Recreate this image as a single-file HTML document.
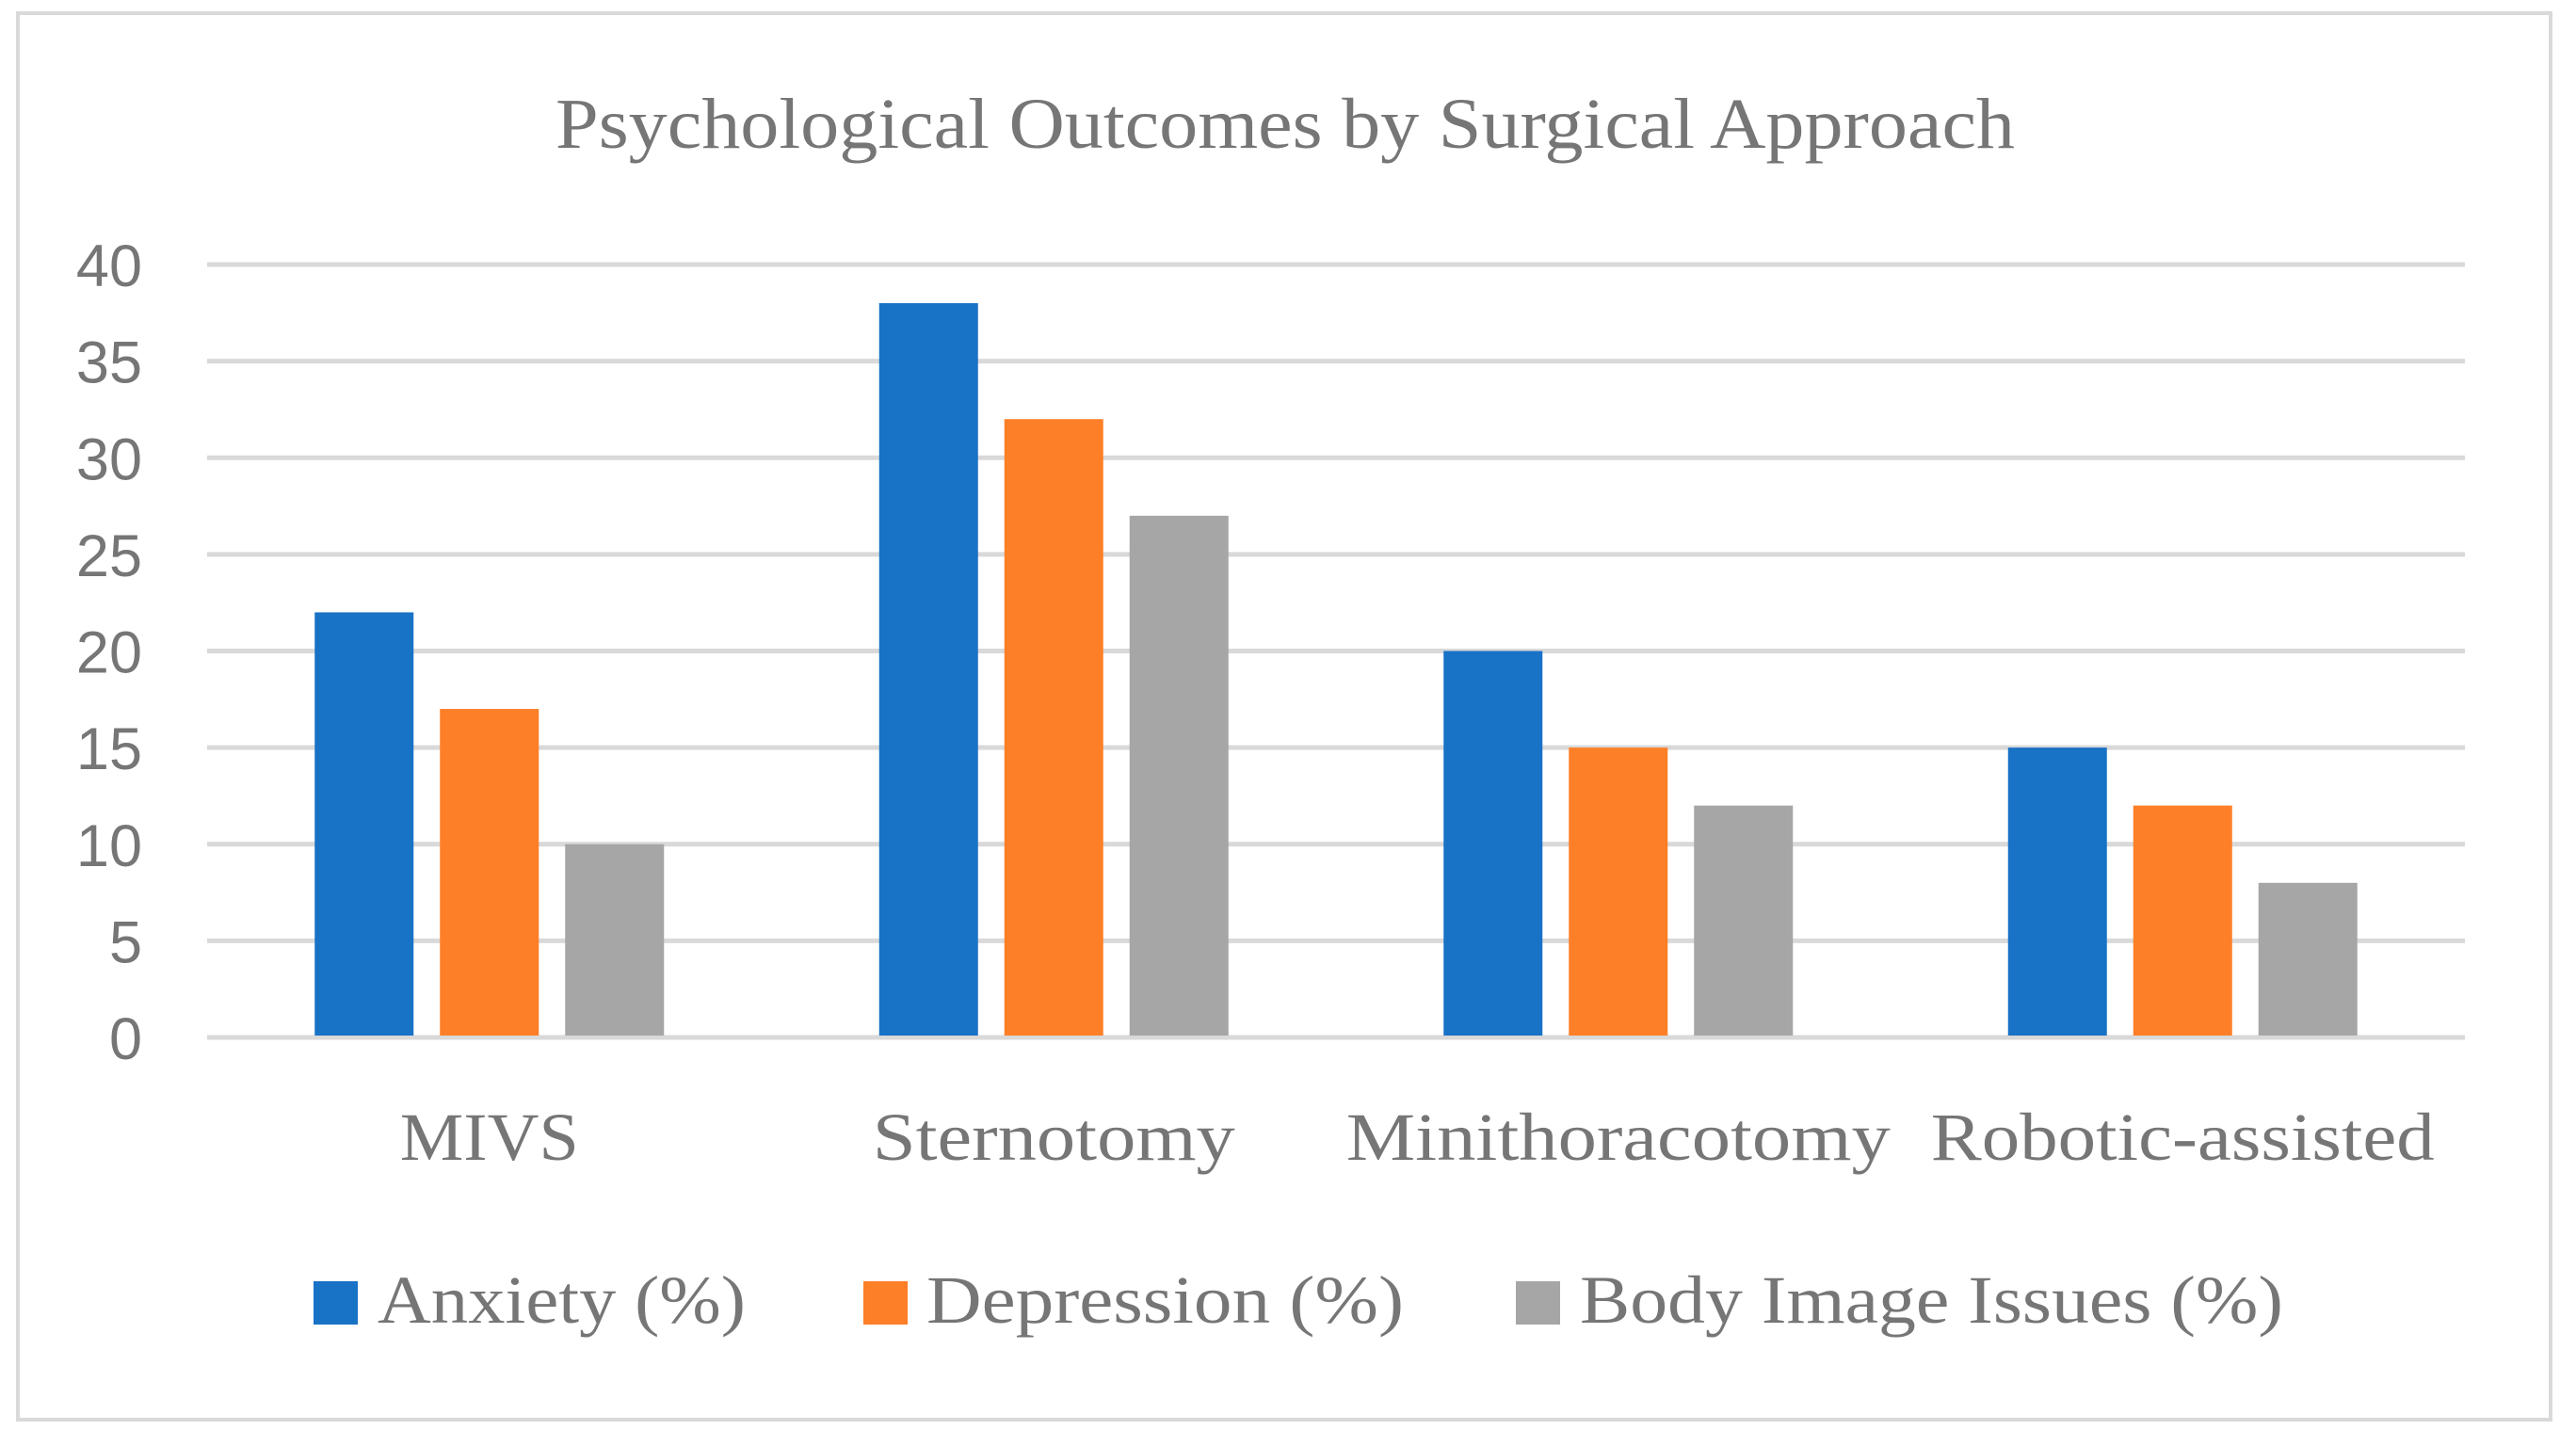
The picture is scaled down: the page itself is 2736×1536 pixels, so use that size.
<!DOCTYPE html>
<html><head><meta charset="utf-8"><style>
html,body{margin:0;padding:0;background:#fff;width:2736px;height:1536px;overflow:hidden}
svg{display:block}
</style></head><body>
<svg id="chart" width="2736" height="1536" xmlns="http://www.w3.org/2000/svg">
<rect x="19" y="14" width="2690" height="1494" fill="#fff" stroke="#d9d9d9" stroke-width="4"/>
<text x="1365" y="157" text-anchor="middle" font-family="'Liberation Serif',serif" font-size="76" fill="#767676" textLength="1550" lengthAdjust="spacingAndGlyphs">Psychological Outcomes by Surgical Approach</text>
<g id="grid"></g><g id="bars"></g><g id="xlabels"></g><g id="legend"></g>
</svg>
<script>
const categories = ["MIVS","Sternotomy","Minithoracotomy","Robotic-assisted"];
const anxiety = [22,38,20,15];
const depression = [17,32,15,12];
const bodyImage = [10,27,12,8];
const yTicks = [0,5,10,15,20,25,30,35,40];
const seriesNames = ["Anxiety (%)","Depression (%)","Body Image Issues (%)"];

const NS="http://www.w3.org/2000/svg";
const colors=["#1872c6","#fd7f27","#a6a6a6"];
const plotL=220, plotR=2618, y0=1102, y40=281, yMax=40;
const yScale=v=>y0-(v/yMax)*(y0-y40);
const catW=(plotR-plotL)/categories.length;
const xCenter=i=>plotL+catW*(i+0.5);
function mk(tag,attrs,parent){const e=document.createElementNS(NS,tag);for(const k in attrs)e.setAttribute(k,attrs[k]);parent.appendChild(e);return e;}
const grid=document.getElementById('grid');
yTicks.forEach(t=>{
  const l=mk('line',{x1:plotL,x2:plotR,y1:yScale(t),y2:yScale(t),stroke:'#d9d9d9','stroke-width':5},grid);
  
  
  const tx=mk('text',{x:151,y:yScale(t)+23,'text-anchor':'end','font-family':"'Liberation Sans',sans-serif",'font-size':63,fill:'#767676'},grid);
  tx.textContent=t;
  
  
});
const bars=document.getElementById('bars');
const series=[anxiety,depression,bodyImage];
const barW=105, step=133;
series.forEach((s,si)=>{
  s.forEach((v,i)=>{
    const cx=xCenter(i)+(si-1)*step;
    const r=mk('rect',{x:cx-barW/2,y:yScale(v),width:barW,height:yScale(0)-yScale(v)-2,fill:colors[si]},bars);
    
    
  });
});
const xl=document.getElementById('xlabels');
const catWidths=[190,385,578,535];
categories.forEach((c,i)=>{
  const t=mk('text',{x:xCenter(i),y:1232,'text-anchor':'middle','font-family':"'Liberation Serif',serif",'font-size':72,fill:'#767676',textLength:catWidths[i],lengthAdjust:'spacingAndGlyphs'},xl);
  t.textContent=c;
  
  
});
const lg=document.getElementById('legend');
const legSq=[333,917,1610], legTx=[401,984,1678], legW=[391,507,747];
seriesNames.forEach((n,i)=>{
  const g=mk('g',{},lg);
  
  
  mk('rect',{x:legSq[i],y:1361,width:47,height:46,fill:colors[i]},g);
  const t=mk('text',{x:legTx[i],y:1405,'font-family':"'Liberation Serif',serif",'font-size':72,fill:'#767676',textLength:legW[i],lengthAdjust:'spacingAndGlyphs'},g);
  t.textContent=n;
});
</script>
</body></html>
